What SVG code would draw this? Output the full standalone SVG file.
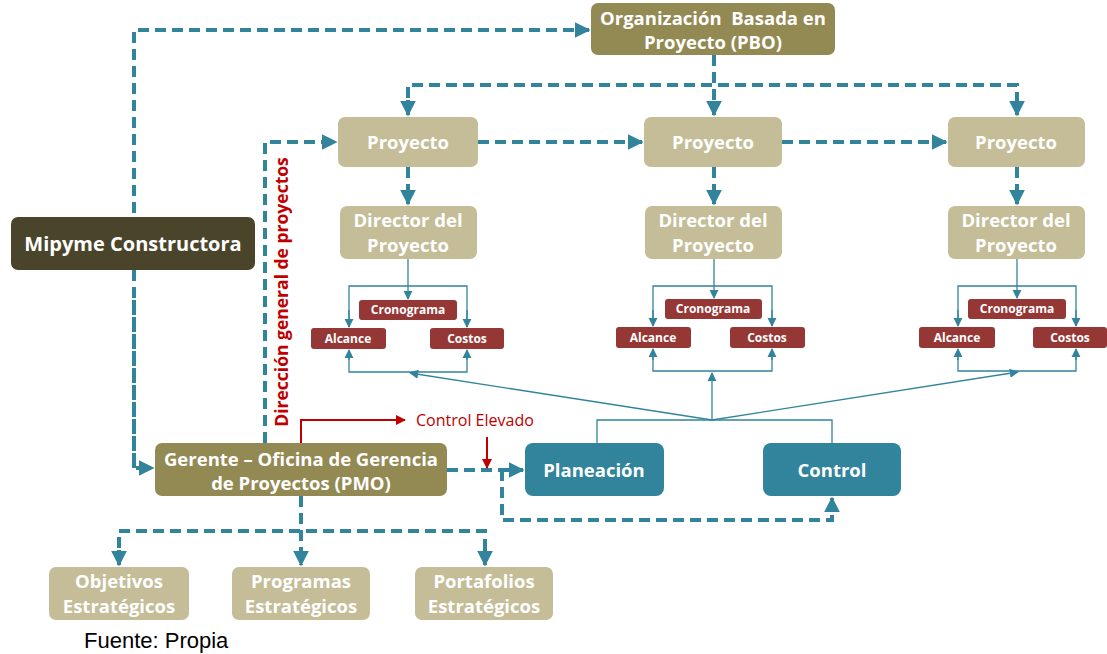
<svg xmlns="http://www.w3.org/2000/svg" width="1107" height="654" viewBox="0 0 1107 654">
<defs>
<style>
.dash{fill:none;stroke:#31849b;stroke-width:4;stroke-dasharray:11 6}
.thin{fill:none;stroke:#31849b;stroke-width:1.3}
.red{fill:none;stroke:#c00000;stroke-width:2}
.t{font-family:"Open Sans","Liberation Sans",sans-serif;font-weight:700;fill:#fff;text-anchor:middle}
.big{font-size:18.5px}
.sm{font-size:12px}
.tan{fill:#c4bd97}
.olive{fill:#938953}
.dark{fill:#4a452a}
.redbox{fill:#953735}
.teal{fill:#31849b}
</style>
<marker id="ah" viewBox="0 0 10 10" refX="9" refY="5" markerWidth="4" markerHeight="4" orient="auto" markerUnits="strokeWidth"><path d="M0,0 L10,5 L0,10 z" fill="#31849b"/></marker>
<marker id="ahs" viewBox="0 0 10 10" refX="9" refY="5" markerWidth="7" markerHeight="7" orient="auto" markerUnits="strokeWidth"><path d="M0,0 L10,5 L0,10 z" fill="#31849b"/></marker>
<marker id="ahr" viewBox="0 0 10 10" refX="9" refY="5" markerWidth="5" markerHeight="5" orient="auto" markerUnits="strokeWidth"><path d="M0,0 L10,5 L0,10 z" fill="#c00000"/></marker>
</defs>
<rect width="1107" height="654" fill="#fff"/>

<g id="connectors">
<path class="dash" d="M134,468 V30 H589" marker-end="url(#ah)"/>
<path class="dash" d="M134,300 V468 H153" marker-end="url(#ah)"/>
<path class="dash" d="M714,55 V115" marker-end="url(#ah)"/>
<path class="dash" d="M408,115 V85 H1017 V115"/>
<path class="dash" d="M408,100 V115" marker-end="url(#ah)"/>
<path class="dash" d="M1017,100 V115" marker-end="url(#ah)"/>
<path class="dash" d="M478,142 H642" marker-end="url(#ah)"/>
<path class="dash" d="M782,142 H946" marker-end="url(#ah)"/>
<path class="dash" d="M265,443 V142 H336" marker-end="url(#ah)"/>
<path class="dash" d="M408,167 V204" marker-end="url(#ah)"/>
<path class="dash" d="M714,167 V204" marker-end="url(#ah)"/>
<path class="dash" d="M1017,167 V204" marker-end="url(#ah)"/>
<path class="thin" d="M408,259 V299" marker-end="url(#ahs)"/>
<path class="thin" d="M349,327 V286 H467 V327"/>
<path class="thin" d="M349,310 V327" marker-end="url(#ahs)"/>
<path class="thin" d="M467,310 V327" marker-end="url(#ahs)"/>
<path class="thin" d="M349,360 V350" marker-end="url(#ahs)"/>
<path class="thin" d="M349,351 V372 H467 V351"/>
<path class="thin" d="M467,360 V350" marker-end="url(#ahs)"/>
<path class="thin" d="M714,259 V298" marker-end="url(#ahs)"/>
<path class="thin" d="M653,326 V286 H772 V326"/>
<path class="thin" d="M653,310 V326" marker-end="url(#ahs)"/>
<path class="thin" d="M772,310 V326" marker-end="url(#ahs)"/>
<path class="thin" d="M653,360 V349" marker-end="url(#ahs)"/>
<path class="thin" d="M653,350 V371 H772 V350"/>
<path class="thin" d="M772,360 V349" marker-end="url(#ahs)"/>
<path class="thin" d="M1017,259 V298" marker-end="url(#ahs)"/>
<path class="thin" d="M958,326 V286 H1076 V326"/>
<path class="thin" d="M958,310 V326" marker-end="url(#ahs)"/>
<path class="thin" d="M1076,310 V326" marker-end="url(#ahs)"/>
<path class="thin" d="M958,360 V349" marker-end="url(#ahs)"/>
<path class="thin" d="M958,350 V371 H1076 V350"/>
<path class="thin" d="M1076,360 V349" marker-end="url(#ahs)"/>
<path class="thin" d="M597,443 V420 H832 V443"/>
<path class="thin" d="M712,420 L410,373" marker-end="url(#ahs)"/>
<path class="thin" d="M712,420 V373" marker-end="url(#ahs)"/>
<path class="thin" d="M712,420 L1018,372" marker-end="url(#ahs)"/>
<path class="dash" d="M447,470 H523" marker-end="url(#ah)"/>
<path class="dash" d="M502,470 V520 H832 V498" marker-end="url(#ah)"/>
<path class="red" d="M301,443 V420 H405" marker-end="url(#ahr)"/>
<path class="red" d="M487,437 V468" marker-end="url(#ahr)"/>
<path class="dash" d="M301,496 V565" marker-end="url(#ah)"/>
<path class="dash" d="M119,565 V531 H485 V565"/>
<path class="dash" d="M119,550 V565" marker-end="url(#ah)"/>
<path class="dash" d="M485,550 V565" marker-end="url(#ah)"/>
</g>

<g id="pbo"><rect class="olive" x="591" y="3" width="244" height="52" rx="7"/>
<text class="t big" x="713" y="25" xml:space="preserve">Organización  Basada en</text><text class="t big" x="713" y="49">Proyecto (PBO)</text></g>

<g id="mipyme"><rect class="dark" x="11" y="217" width="244" height="53" rx="7"/>
<text class="t" font-size="20" x="133" y="251">Mipyme Constructora</text></g>

<g id="proyecto1"><rect class="tan" x="338" y="117" width="140" height="50" rx="7"/><text class="t big" x="408" y="149">Proyecto</text></g>
<g id="proyecto2"><rect class="tan" x="644" y="117" width="138" height="50" rx="7"/><text class="t big" x="713" y="149">Proyecto</text></g>
<g id="proyecto3"><rect class="tan" x="948" y="117" width="137" height="50" rx="7"/><text class="t big" x="1016" y="149">Proyecto</text></g>

<g id="director1"><rect class="tan" x="340" y="206" width="137" height="53" rx="7"/><text class="t big" x="408" y="227">Director del</text><text class="t big" x="408" y="252">Proyecto</text></g>
<g id="director2"><rect class="tan" x="645" y="206" width="137" height="53" rx="7"/><text class="t big" x="713" y="227">Director del</text><text class="t big" x="713" y="252">Proyecto</text></g>
<g id="director3"><rect class="tan" x="948" y="206" width="137" height="53" rx="7"/><text class="t big" x="1016" y="227">Director del</text><text class="t big" x="1016" y="252">Proyecto</text></g>

<g id="crono1"><rect class="redbox" x="359" y="300" width="98" height="20" rx="3"/><text class="t sm" x="408" y="314">Cronograma</text></g>
<g id="alcance1"><rect class="redbox" x="311" y="328" width="75" height="21" rx="3"/><text class="t sm" x="348" y="343">Alcance</text></g>
<g id="costos1"><rect class="redbox" x="430" y="328" width="74" height="21" rx="3"/><text class="t sm" x="467" y="343">Costos</text></g>

<g id="crono2"><rect class="redbox" x="665" y="299" width="97" height="20" rx="3"/><text class="t sm" x="713" y="313">Cronograma</text></g>
<g id="alcance2"><rect class="redbox" x="616" y="327" width="75" height="21" rx="3"/><text class="t sm" x="653" y="342">Alcance</text></g>
<g id="costos2"><rect class="redbox" x="730" y="327" width="75" height="21" rx="3"/><text class="t sm" x="767" y="342">Costos</text></g>

<g id="crono3"><rect class="redbox" x="968" y="299" width="98" height="20" rx="3"/><text class="t sm" x="1017" y="313">Cronograma</text></g>
<g id="alcance3"><rect class="redbox" x="919" y="327" width="76" height="21" rx="3"/><text class="t sm" x="957" y="342">Alcance</text></g>
<g id="costos3"><rect class="redbox" x="1033" y="327" width="74" height="21" rx="3"/><text class="t sm" x="1070" y="342">Costos</text></g>

<g id="direccion-label"><text font-family="'Open Sans','Liberation Sans',sans-serif" font-weight="700" font-size="17.5" fill="#c00000" text-anchor="middle" transform="translate(288,292) rotate(-90)">Dirección general de proyectos</text></g>

<g id="control-elevado-label"><text font-family="'Open Sans','Liberation Sans',sans-serif" font-size="16" fill="#c00000" x="416" y="426">Control Elevado</text></g>

<g id="gerente"><rect class="olive" x="155" y="443" width="292" height="53" rx="7"/>
<text class="t big" x="301" y="466">Gerente – Oficina de Gerencia</text><text class="t big" x="301" y="490">de Proyectos (PMO)</text></g>

<g id="planeacion"><rect class="teal" x="525" y="443" width="139" height="53" rx="8"/><text class="t big" x="594" y="477">Planeación</text></g>
<g id="control"><rect class="teal" x="763" y="443" width="138" height="53" rx="8"/><text class="t big" x="832" y="477">Control</text></g>

<g id="objetivos"><rect class="tan" x="49" y="567" width="140" height="53" rx="7"/><text class="t big" x="119" y="588">Objetivos</text><text class="t big" x="119" y="613">Estratégicos</text></g>
<g id="programas"><rect class="tan" x="232" y="567" width="138" height="53" rx="7"/><text class="t big" x="301" y="588">Programas</text><text class="t big" x="301" y="613">Estratégicos</text></g>
<g id="portafolios"><rect class="tan" x="415" y="567" width="138" height="53" rx="7"/><text class="t big" x="484" y="588">Portafolios</text><text class="t big" x="484" y="613">Estratégicos</text></g>

<text font-family="'Liberation Sans',Arial,sans-serif" font-size="22" fill="#000" x="84" y="648">Fuente: Propia</text>
</svg>
